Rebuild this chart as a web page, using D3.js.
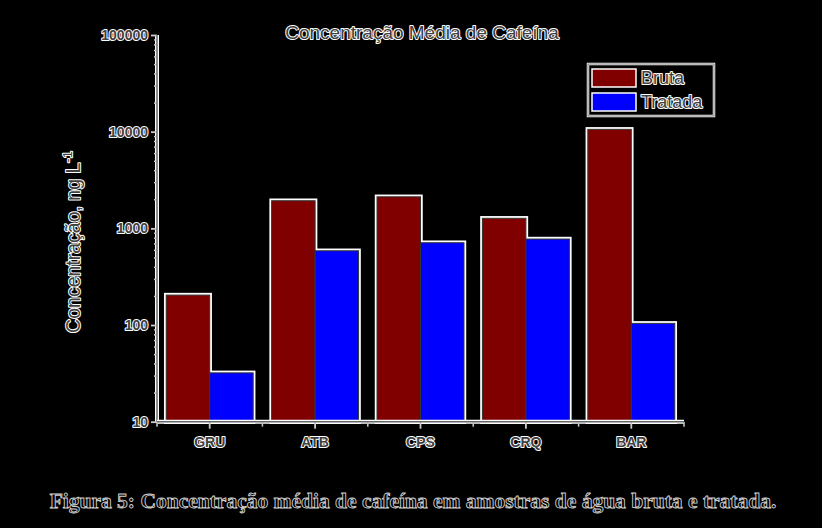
<!DOCTYPE html>
<html><head><meta charset="utf-8">
<script src="https://cdn.jsdelivr.net/npm/d3@7"></script>
<style>
html,body{margin:0;padding:0;background:#000;}
svg{display:block;}
</style></head>
<body>
<svg id="chart" width="822" height="528"></svg>
<script>
const categories = ["GRU","ATB","CPS","CRQ","BAR"];
const seriesNames = ["Bruta","Tratada"];
const bruta   = [204, 1930, 2120, 1270, 10570];
const tratada = [32, 586, 710, 775, 104];
const yTickLabels = ["10","100","1000","10000","100000"];
const colors = ["#800000","#0000ff"];
const title = "Concentração Média de Cafeína";
const caption = "Figura 5: Concentração média de cafeína em amostras de água bruta e tratada.";

(function(){
const svg = d3.select("#chart");
svg.append("rect").attr("width",822).attr("height",528).attr("fill","#000");

const pLeft = 157, pRight = 684, pTop = 35, pBottom = 421.7;
const y = d3.scaleLog().domain([10,100000]).range([pBottom, pTop]);
const x = d3.scaleBand().domain(categories).range([pLeft, pRight]).paddingInner(0.175).paddingOuter(0.0875);
const x1 = d3.scaleBand().domain(seriesNames).range([0, x.bandwidth()]);

const data = categories.map((c,i)=>({cat:c, vals:[bruta[i], tratada[i]]}));
const FONT = "Arial, Liberation Sans, sans-serif";
const TXT = "#404040";

function halo(sel, w){
  return sel.attr("stroke","#fff").attr("stroke-width", w||2).attr("paint-order","stroke").attr("stroke-linejoin","round");
}

// bars
const g = svg.append("g");
data.forEach(d=>{
  d.vals.forEach((v,j)=>{
    const bx = x(d.cat) + x1(seriesNames[j]);
    g.append("rect").attr("x",bx).attr("y",y(v)).attr("width",x1.bandwidth()).attr("height",pBottom - y(v))
      .attr("fill","none").attr("stroke","#fff").attr("stroke-width",4.5);
  });
});
data.forEach(d=>{
  d.vals.forEach((v,j)=>{
    const bx = x(d.cat) + x1(seriesNames[j]);
    g.append("rect").attr("x",bx).attr("y",y(v)).attr("width",x1.bandwidth()).attr("height",pBottom - y(v))
      .attr("fill",colors[j]).attr("stroke","#333").attr("stroke-width",1);
  });
});

// y axis
const minor = [];
for (let e=1;e<5;e++) for (let m=2;m<=9;m++) minor.push(m*Math.pow(10,e));
const majors = yTickLabels.map(Number);
const yAxisG = svg.append("g").attr("transform",`translate(${pLeft},0)`);
yAxisG.append("line").attr("x1",0).attr("x2",0).attr("y1",pTop).attr("y2",pBottom).attr("stroke","#fff").attr("stroke-width",4);
yAxisG.append("g").call(d3.axisLeft(y).tickValues(minor).tickSize(3).tickFormat(""))
  .call(s=>{s.select(".domain").remove(); s.selectAll("line").attr("stroke","#ccc").attr("stroke-width",1.5);});
const majAx = yAxisG.append("g").call(d3.axisLeft(y).tickValues(majors).tickSize(6).tickPadding(3).tickFormat((d,i)=>yTickLabels[i]))
  .call(s=>{s.select(".domain").remove(); s.selectAll("line").attr("stroke","#ccc").attr("stroke-width",1.8);});
majAx.selectAll("text").attr("font-family",FONT).attr("font-size",14).attr("font-weight","bold")
  .attr("fill",TXT).call(halo,2);
yAxisG.append("line").attr("x1",0).attr("x2",0).attr("y1",pTop).attr("y2",pBottom).attr("stroke","#666").attr("stroke-width",1.5);

// x axis
const xAxisG = svg.append("g").attr("transform",`translate(0,${pBottom})`);
xAxisG.append("line").attr("x1",pLeft).attr("x2",pRight).attr("y1",0).attr("y2",0).attr("stroke","#fff").attr("stroke-width",4);
const boundaries = [];
for (let i=0;i<=categories.length;i++) boundaries.push(pLeft + i*x.step());
xAxisG.selectAll("line.minor").data(boundaries).enter().append("line").attr("class","minor")
  .attr("x1",d=>d).attr("x2",d=>d).attr("y1",0).attr("y2",5).attr("stroke","#ccc").attr("stroke-width",1.5);
const xa = xAxisG.append("g").call(d3.axisBottom(x).tickSize(7).tickPadding(8))
  .call(s=>{s.select(".domain").remove(); s.selectAll("line").attr("stroke","#ccc").attr("stroke-width",1.8);});
xa.selectAll("text").attr("font-family",FONT).attr("font-size",14).attr("font-weight","bold")
  .attr("fill",TXT).call(halo,2);
xAxisG.append("line").attr("x1",pLeft).attr("x2",pRight).attr("y1",0).attr("y2",0).attr("stroke","#666").attr("stroke-width",1.5);

// title
svg.append("text").attr("x",422).attr("y",39).attr("text-anchor","middle")
  .attr("font-family",FONT).attr("font-size",19)
  .attr("fill",TXT).text(title).call(halo,2);

// y label
const yl = svg.append("text").attr("transform","translate(80,242) rotate(-90)").attr("text-anchor","middle")
  .attr("font-family",FONT).attr("font-size",19.5)
  .attr("fill",TXT).call(halo,2);
yl.append("tspan").text("Concentração, ng L");
yl.append("tspan").attr("dy",-8).attr("font-size",13).text("-1");

// legend
const lg = svg.append("g").attr("transform","translate(588,64)");
lg.append("rect").attr("x",0).attr("y",0).attr("width",126).attr("height",52).attr("fill","#000").attr("stroke","#fff").attr("stroke-width",2.5);
lg.append("rect").attr("x",0).attr("y",0).attr("width",126).attr("height",52).attr("fill","none").attr("stroke","#777").attr("stroke-width",1);
seriesNames.forEach((n,j)=>{
  lg.append("rect").attr("x",4).attr("y",5+j*24).attr("width",44).attr("height",18).attr("fill",colors[j]).attr("stroke","#fff").attr("stroke-width",1.5);
  lg.append("text").attr("x",53).attr("y",20+j*24).attr("font-family",FONT).attr("font-size",18)
    .attr("fill",TXT).text(n).call(halo,2);
});

// caption
svg.append("text").attr("x",413).attr("y",508).attr("text-anchor","middle")
  .attr("font-family","Liberation Serif, Times New Roman, serif").attr("font-size",21.5).attr("font-weight","bold")
  .attr("fill","#000").attr("stroke","#cfcfcf").attr("stroke-width",0.9).text(caption);
})();
</script>
</body></html>
